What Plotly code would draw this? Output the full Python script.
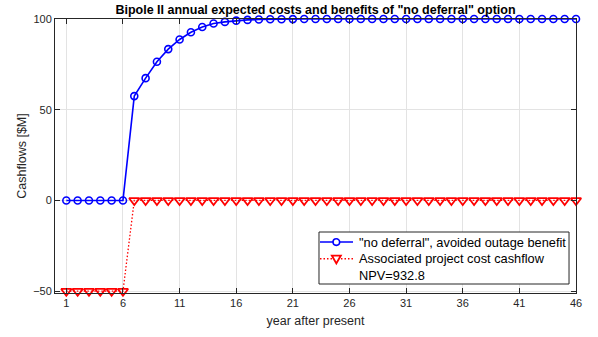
import plotly.graph_objects as go

# Years after present
years = list(range(1, 47))

# Avoided outage benefit for the "no deferral" option [$M]
benefit = ([0, 0, 0, 0, 0, 0,
            57.5, 67.4, 76.4, 83.4, 88.7, 92.7, 95.6, 97.5, 98.4, 99.1,
            99.5, 99.7, 99.85, 99.9, 99.95]
           + [100] * 25)

# Associated project cost cashflow [$M]
cost = [-50] * 6 + [0] * 40

benefit_label = '"no deferral", avoided outage benefit'
cost_label = "Associated project cost cashflow"
npv_label = "NPV=932.8"
tick_years = [1, 6, 11, 16, 21, 26, 31, 36, 41, 46]
y_ticks = [-50, 0, 50, 100]

font_family = "Liberation Sans, Arial, sans-serif"
axis_color = "#262626"
blue = "#0000ff"
red = "#ff0000"
dotted = "1.5px,2px"

fig = go.Figure()
fig.add_trace(go.Scatter(
    x=years, y=benefit, mode="lines+markers", name=benefit_label,
    cliponaxis=False,
    line=dict(color=blue, width=1.6),
    marker=dict(symbol="circle-open", size=7, color=blue,
                line=dict(width=1.6, color=blue)),
))
fig.add_trace(go.Scatter(
    x=years, y=cost, mode="lines+markers", name=cost_label,
    cliponaxis=False,
    line=dict(color=red, width=1.3, dash=dotted),
    marker=dict(symbol="triangle-down-open", size=9, color=red,
                line=dict(width=1.8, color=red)),
))

# Boxed legend drawn in plot-area fractions (box, sample lines, symbols, labels)
box_x0, box_x1 = 0.5067, 0.9866
box_y0, box_y1 = 0.0328, 0.2226
row_y = [0.186, 0.125, 0.0646]
sample_x0, sample_x1, sample_xm = 0.5086, 0.572, 0.540
text_x = 0.5797

shapes = [
    dict(type="rect", xref="paper", yref="paper", layer="above",
         x0=box_x0, x1=box_x1, y0=box_y0, y1=box_y1,
         fillcolor="white", line=dict(color=axis_color, width=1)),
    dict(type="line", xref="paper", yref="paper", layer="above",
         x0=sample_x0, x1=sample_x1, y0=row_y[0], y1=row_y[0],
         line=dict(color=blue, width=1.6)),
    dict(type="circle", xref="paper", yref="paper", layer="above",
         xsizemode="pixel", ysizemode="pixel",
         xanchor=sample_xm, yanchor=row_y[0],
         x0=-3.3, x1=3.3, y0=-3.3, y1=3.3,
         fillcolor="white", line=dict(color=blue, width=1.6)),
    dict(type="line", xref="paper", yref="paper", layer="above",
         x0=sample_x0, x1=sample_x1, y0=row_y[1], y1=row_y[1],
         line=dict(color=red, width=1.3, dash=dotted)),
    dict(type="path", xref="paper", yref="paper", layer="above",
         xsizemode="pixel", ysizemode="pixel",
         xanchor=sample_xm, yanchor=row_y[1],
         path="M -4.5 3.2 L 4.5 3.2 L 0 -4.6 Z",
         fillcolor="white", line=dict(color=red, width=1.8)),
]

annotations = [
    dict(xref="paper", yref="paper", x=text_x, y=yy, text=txt,
         xanchor="left", yanchor="middle", showarrow=False,
         font=dict(family=font_family, size=12.8, color="black"))
    for yy, txt in zip(row_y, [benefit_label, cost_label, npv_label])
]

axis_common = dict(
    showline=True, linecolor=axis_color, linewidth=1, mirror="allticks",
    ticks="inside", ticklen=5, tickcolor=axis_color,
    showgrid=True, gridcolor="#e3e3e3", gridwidth=1,
    zeroline=False,
    tickfont=dict(family=font_family, size=11, color=axis_color),
)

fig.update_layout(
    width=598, height=337,
    margin=dict(l=55, r=22, t=19, b=44),
    paper_bgcolor="white", plot_bgcolor="white",
    font=dict(family=font_family, color=axis_color),
    showlegend=False,
    shapes=shapes,
    annotations=annotations,
    title=dict(
        text='<b>Bipole II annual expected costs and benefits of "no deferral" option</b>',
        x=(55 + 576) / 2 / 598, xanchor="center",
        y=1 - 10 / 337, yanchor="middle",
        font=dict(family=font_family, size=12.5, color="black"),
    ),
    xaxis=dict(
        range=[0, 46], tickvals=tick_years,
        title=dict(text="year after present", standoff=8,
                   font=dict(family=font_family, size=12.5, color=axis_color)),
        **axis_common,
    ),
    yaxis=dict(
        range=[-51, 100], tickvals=y_ticks,
        title=dict(text="Cashflows [$M]", standoff=3,
                   font=dict(family=font_family, size=12.5, color=axis_color)),
        **axis_common,
    ),
)

fig.write_html("out.html")
